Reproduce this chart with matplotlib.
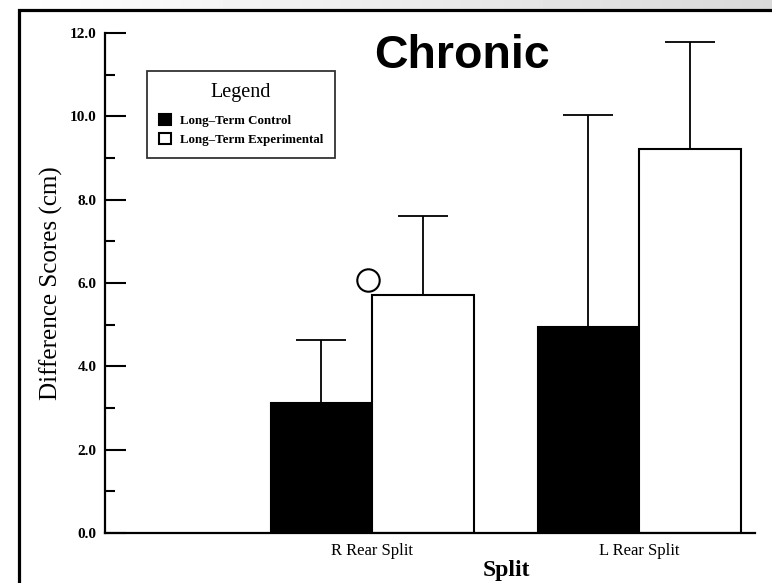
import numpy as np
import matplotlib.pyplot as plt
from matplotlib.patches import Rectangle
from matplotlib.ticker import MultipleLocator

groups = ['R Rear Split', 'L Rear Split']
control = [3.12, 4.94]
control_err = [1.52, 5.10]
experimental = [5.72, 9.22]
experimental_err = [1.90, 2.57]
marker_y = 6.07

fig = plt.figure(figsize=(7.72, 5.83), dpi=100)

# grey strip along the top + outer frame
bg = fig.add_axes([0, 0, 1, 1], zorder=-10)
grad = np.linspace(1.0, 0.85, 256).reshape(1, -1)
bg.imshow(np.repeat(grad, 2, axis=0), extent=[0, 1, 1 - 10 / 583, 1], cmap='gray',
          vmin=0, vmax=1, aspect='auto')
bg.set_xlim(0, 1)
bg.set_ylim(0, 1)
bg.axis('off')
fig.patches.append(Rectangle((19 / 772, -0.1), 1.2, 1 - 10 / 583 + 0.1,
                             transform=fig.transFigure, fill=False,
                             edgecolor='black', linewidth=2.3))

ax = fig.add_axes([105 / 772, 1 - 533 / 583, 650 / 772, 500 / 583])
ax.patch.set_alpha(0)

x = np.array([1.0, 2.0])
w = 0.38
ax.bar(x - w / 2, control, w, color='black', edgecolor='black', linewidth=1.5,
       label='Long\u2013Term Control')
ax.bar(x + w / 2, experimental, w, color='white', edgecolor='black', linewidth=1.5,
       label='Long\u2013Term Experimental')
ax.errorbar(x - w / 2, control, yerr=[np.zeros(2), control_err], fmt='none',
            ecolor='black', elinewidth=1.3, capsize=18, capthick=1.3)
ax.errorbar(x + w / 2, experimental, yerr=[np.zeros(2), experimental_err], fmt='none',
            ecolor='black', elinewidth=1.3, capsize=18, capthick=1.3)
ax.scatter([x[0] - 0.015], [marker_y], s=260, facecolor='white', edgecolor='black',
           linewidth=1.5, zorder=5)

ax.set_xlim(0, 2.434)
ax.set_ylim(0, 12)
ax.spines['top'].set_visible(False)
ax.spines['right'].set_visible(False)
ax.spines['left'].set_linewidth(1.6)
ax.spines['bottom'].set_linewidth(1.6)

ax.yaxis.set_major_locator(MultipleLocator(2))
ax.yaxis.set_minor_locator(MultipleLocator(1))
ax.set_yticks(np.arange(0, 13, 2))
ax.set_yticklabels(['%.1f' % v for v in np.arange(0, 13, 2)],
                   fontfamily='Liberation Serif', fontweight='bold', fontsize=11)
ax.tick_params(axis='y', which='major', direction='in', length=15, width=1.5, pad=6)
ax.tick_params(axis='y', which='minor', direction='in', length=7.5, width=1.5)
ax.set_xticks(x)
ax.set_xticklabels(groups, fontfamily='Liberation Serif', fontsize=12)
ax.tick_params(axis='x', length=0, pad=7)

ax.set_ylabel('Difference Scores (cm)', fontfamily='Liberation Serif', fontsize=18)
ax.yaxis.set_label_coords(-42 / 650, 0.5)
ax.set_xlabel('Split', fontfamily='Liberation Serif', fontsize=17, fontweight='bold')
ax.xaxis.set_label_coords(401 / 650, -27 / 500)

fig.text(462 / 772, 1 - 68 / 583, 'Chronic', fontfamily='Liberation Sans',
         fontweight='bold', fontsize=33.5, ha='center', va='baseline')

leg = ax.legend(loc='upper left', bbox_to_anchor=(42 / 650, 1 - 38 / 500),
                title='Legend', frameon=True, fancybox=False, edgecolor='black',
                prop={'family': 'Liberation Serif', 'weight': 'bold', 'size': 9.3},
                title_fontproperties={'family': 'Liberation Serif', 'size': 14.5},
                handlelength=0.95, handleheight=0.95, handletextpad=0.7,
                borderpad=0.9, labelspacing=0.45, borderaxespad=0)
leg.get_frame().set_linewidth(1.3)
leg._legend_box.sep = 9  # more room under the "Legend" title

fig.savefig('out.png', dpi=100)
